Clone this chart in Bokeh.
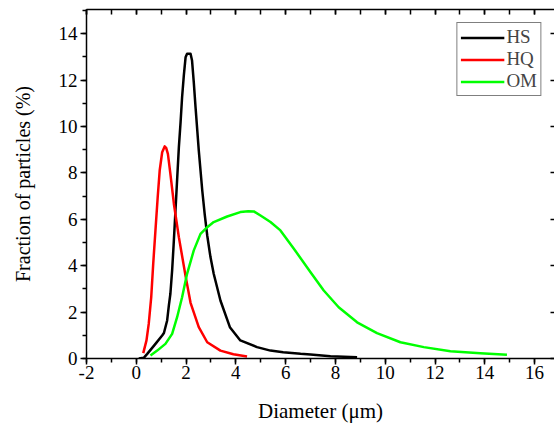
from bokeh.plotting import figure
from bokeh.models import LinearAxis, Range1d, Legend, LegendItem, FixedTicker
from bokeh.embed import file_html
from bokeh.resources import INLINE

hs_x = [0.1, 0.3, 0.44, 0.77, 1.04, 1.11, 1.24, 1.31, 1.37, 1.44, 1.5, 1.57, 1.64, 1.71, 1.78, 1.84, 1.91, 1.98, 2.04, 2.18, 2.24, 2.31, 2.38, 2.51, 2.65, 2.75, 2.85, 2.98, 3.11, 3.38, 3.76, 4.18, 4.85, 5.39, 5.9, 6.6, 7.0, 7.8, 8.87]
hs_y = [0.0, 0.03, 0.2, 0.63, 0.99, 1.1, 1.64, 2.3, 2.79, 3.8, 4.9, 6.3, 7.7, 9.1, 10.2, 11.26, 12.2, 12.98, 13.13, 13.13, 12.84, 11.9, 10.83, 8.97, 7.24, 6.2, 5.3, 4.37, 3.65, 2.5, 1.35, 0.78, 0.49, 0.34, 0.27, 0.2, 0.17, 0.1, 0.05]

hq_x = [0.28, 0.41, 0.5, 0.6, 0.68, 0.77, 0.86, 0.94, 1.04, 1.14, 1.2, 1.27, 1.37, 1.51, 1.71, 1.98, 2.18, 2.51, 2.85, 3.38, 3.9, 4.45]
hq_y = [0.23, 0.78, 1.49, 2.64, 4.08, 5.52, 6.95, 8.1, 8.89, 9.14, 9.08, 8.82, 7.96, 6.67, 5.23, 3.55, 2.4, 1.35, 0.7, 0.34, 0.18, 0.09]

om_x = [0.57, 0.84, 1.17, 1.44, 1.64, 1.84, 2.04, 2.31, 2.58, 2.85, 3.11, 3.65, 4.18, 4.5, 4.72, 4.99, 5.39, 5.79, 6.33, 7.0, 7.53, 8.13, 8.87, 9.67, 10.61, 11.55, 12.62, 13.82, 14.89]
om_y = [0.13, 0.34, 0.63, 1.06, 1.78, 2.64, 3.65, 4.66, 5.37, 5.66, 5.88, 6.12, 6.31, 6.35, 6.34, 6.16, 5.88, 5.52, 4.73, 3.72, 2.93, 2.21, 1.56, 1.09, 0.7, 0.49, 0.31, 0.23, 0.16]

series_names = ["HS", "HQ", "OM"]
x_ticks = list(range(-2, 17, 2))
y_ticks = list(range(0, 15, 2))

FONT = "Liberation Serif"

p = figure(width=554, height=425, output_backend="svg", toolbar_location=None,
           x_range=Range1d(-2, 16.8), y_range=Range1d(0, 15.04),
           min_border_left=86, min_border_right=0, min_border_top=9, min_border_bottom=67)
p.xgrid.visible = False
p.ygrid.visible = False
p.outline_line_color = None
p.background_fill_color = "white"

r1 = p.line(hs_x, hs_y, line_color="black", line_width=2.5, line_join="round")
r2 = p.line(hq_x, hq_y, line_color="#ff0000", line_width=2.5, line_join="round")
r3 = p.line(om_x, om_y, line_color="#00ff00", line_width=2.5, line_join="round")

xa = p.xaxis[0]
xa.ticker = FixedTicker(ticks=x_ticks, minor_ticks=list(range(-2, 17)))
xa.axis_label = "Diameter (μm)"
xa.major_label_overrides = {t: str(t) for t in x_ticks}
ya = p.yaxis[0]
ya.ticker = FixedTicker(ticks=y_ticks, minor_ticks=list(range(0, 16)))
ya.axis_label = "Fraction of particles (%)"

for ax in (xa, ya):
    ax.axis_line_color = "black"
    ax.axis_line_width = 1.5
    ax.major_tick_line_color = "black"
    ax.minor_tick_line_color = "black"
    ax.major_tick_line_width = 1.5
    ax.minor_tick_line_width = 1.5
    ax.major_tick_in = 0
    ax.major_tick_out = 6
    ax.minor_tick_in = 0
    ax.minor_tick_out = 4
    ax.major_label_text_font = FONT
    ax.major_label_text_font_size = "19px"
    ax.major_label_text_color = "black"
    ax.axis_label_text_font = FONT
    ax.axis_label_text_font_style = "normal"
    ax.axis_label_text_color = "black"

xa.axis_label_text_font_size = "21px"
ya.axis_label_text_font_size = "20px"
xa.major_label_standoff = 1
xa.axis_label_standoff = 17
ya.major_label_standoff = 3
ya.axis_label_standoff = 22

top = LinearAxis(ticker=FixedTicker(ticks=x_ticks, minor_ticks=list(range(-2, 17))),
                 major_label_text_font_size="0px", axis_line_width=1.5,
                 major_tick_in=5, major_tick_out=0, minor_tick_in=5, minor_tick_out=0,
                 major_tick_line_width=1.5, minor_tick_line_width=1.5)
top.major_label_text_color = None
p.add_layout(top, "above")

right = LinearAxis(ticker=FixedTicker(ticks=y_ticks, minor_ticks=[]),
                   major_label_text_font_size="0px", axis_line_color=None,
                   major_tick_in=4, major_tick_out=0, minor_tick_in=0, minor_tick_out=0,
                   major_tick_line_width=1.5)
right.major_label_text_color = None
p.add_layout(right, "right")

legend = Legend(items=[LegendItem(label=series_names[0], renderers=[r1]),
                       LegendItem(label=series_names[1], renderers=[r2]),
                       LegendItem(label=series_names[2], renderers=[r3])],
                location="top_right")
legend.margin = 13
legend.padding = 3
legend.spacing = 0
legend.label_height = 21
legend.glyph_height = 21
legend.glyph_width = 44
legend.label_standoff = 2
legend.label_text_font = FONT
legend.label_text_font_size = "19px"
legend.border_line_color = "black"
legend.border_line_width = 1
legend.background_fill_alpha = 1
p.add_layout(legend)

open("out.html", "w").write(file_html(p, INLINE))
